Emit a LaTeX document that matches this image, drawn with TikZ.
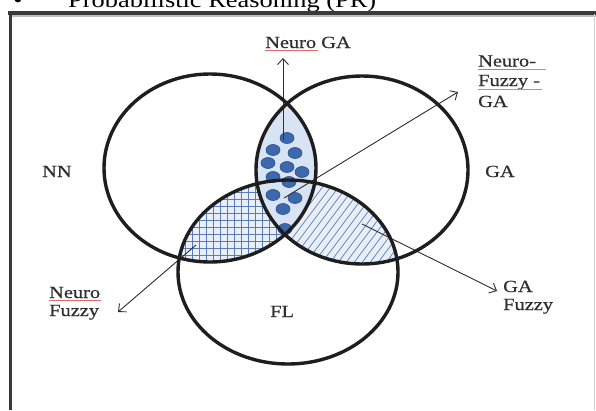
\documentclass[tikz,border=0pt]{standalone}
\usepackage{fontspec}
\setmainfont{Liberation Serif}
\newfontfamily\lblfont[FakeStretch=1.2,FakeBold=0.5]{Liberation Serif}
\newfontfamily\headfont[FakeStretch=1.2]{Liberation Serif}
\usetikzlibrary{arrows.meta}
\definecolor{ink}{HTML}{1E1E1E}
\definecolor{txt}{HTML}{2E2E2E}
\definecolor{dotblue}{HTML}{3D68AE}
\definecolor{dotedge}{HTML}{2A4F8E}
\definecolor{lensfill}{HTML}{D8E3F3}
\definecolor{hatchbg}{HTML}{E8EFF9}
\definecolor{hatchln}{HTML}{5A7BB8}
\definecolor{framec}{HTML}{3A3A3A}
\definecolor{spellred}{HTML}{E06A6A}
\definecolor{spellgreen}{HTML}{6DBB6D}
\begin{document}
\begin{tikzpicture}[x=1pt,y=-1pt,
  ring/.style={draw=ink, line width=3.4pt},
  lbl/.style={font=\lblfont\fontsize{17}{20}\selectfont, text=txt, inner sep=0pt, anchor=base west},
  arr/.style={draw=txt, line width=0.9pt, -{Straight Barb[length=6pt,width=11pt,line width=0.9pt]}},
  hatch/.style={draw=hatchln, line width=0.7pt},
  dot/.style={fill=dotblue, draw=dotedge, line width=0.6pt},
  spell/.style={line width=0.7pt}]

\useasboundingbox (0,0) rectangle (596,410);
\clip (0,0) rectangle (596,410);
\fill[white] (0,0) rectangle (596,410);

% heading line, cut by the top of the page
\node[font=\headfont\fontsize{22}{26}\selectfont, inner sep=0pt, anchor=base] (bullet) at (18,7) {•};
\node[font=\headfont\fontsize{22}{26}\selectfont, inner sep=0pt, anchor=base west] (title) at (68,7) {Probabilistic Reasoning (PR)};

% frame
\draw[line width=2pt, black!25] (9,15.5) -- (596,15.5);
\draw[line width=3.2pt, framec] (8,13) -- (596,13);
\draw[line width=3.4pt, framec] (10.5,11.5) -- (10.5,410);
\draw[line width=0.8pt, black!18] (594,14) -- (594,410);

% set centres
\coordinate (cNN) at (210,168);
\coordinate (cGA) at (362,170);
\coordinate (cFL) at (288,272);

% NN and FL overlap: cross hatching
\begin{scope}
  \clip (cNN) ellipse [x radius=106pt, y radius=94pt];
  \clip (cFL) ellipse [x radius=110pt, y radius=92pt];
  \fill[hatchbg] (150,150) rectangle (320,300);
  \foreach \x in {150,157,...,320} \draw[hatch] (\x,150) -- (\x,300);
  \foreach \y in {150,157,...,300} \draw[hatch] (150,\y) -- (320,\y);
\end{scope}

% GA and FL overlap: diagonal hatching
\begin{scope}
  \clip (cGA) ellipse [x radius=106pt, y radius=94pt];
  \clip (cFL) ellipse [x radius=110pt, y radius=92pt];
  \fill[hatchbg] (250,150) rectangle (420,300);
  \foreach \x in {150,158,...,420} \draw[hatch] (\x,300) -- (\x+110,153);
\end{scope}

% NN and GA overlap: light fill with dots
\begin{scope}
  \clip (cNN) ellipse [x radius=106pt, y radius=94pt];
  \fill[lensfill] (cGA) ellipse [x radius=106pt, y radius=94pt];
\end{scope}
\foreach \p in {(287,138),(273,150),(295,153),(268,163),(287,167),(302,172),
                (273,177),(289,182),(273,195),(295,198),(283,209),(285,229)}
  \draw[dot] \p ellipse [x radius=7pt, y radius=5.5pt];

% labels (multi-line labels sit on the baseline of their last line)
\node[lbl] (nn) at (42,177) {NN};
\node[lbl] (ga) at (485,177) {GA};
\node[lbl] (fl) at (270,317) {FL};
\node[lbl] (ngaT) at (265,48) {Neuro GA};
\node[lbl, align=left] (nfgT) at (478,107) {Neuro-\\[-0.5pt]Fuzzy -\\[1pt]GA};
\node[lbl, align=left] (nfT) at (49,316) {Neuro\\[-2pt]Fuzzy};
\node[lbl, align=left] (gfT) at (503,310) {GA\\[-2pt]Fuzzy};

% spelling marks under the labels
\draw[spell, spellred] (265,50.5) -- (318,50.5);
\draw[spell, spellred] (478,69) -- (521,69);
\draw[spell, spellgreen] (521,69) -- (546,69);
\draw[spell, spellgreen] (478,89) -- (542,89);
\draw[spell, spellred] (49,300.5) -- (101,300.5);

% arrows
\coordinate (ngaS) at (283,140);
\coordinate (ngaE) at (283,58);
\coordinate (nfgS) at (284,198);
\coordinate (nfgE) at (458,92);
\coordinate (nfS) at (196,245);
\coordinate (nfE) at (118,312);
\coordinate (gfS) at (362,224);
\coordinate (gfE) at (497,291);
\draw[arr] (ngaS) -- (ngaE);
\draw[arr] (nfgS) -- (nfgE);
\draw[arr] (nfS) -- (nfE);
\draw[arr] (gfS) -- (gfE);

% the three sets
\draw[ring] (cNN) ellipse [x radius=106pt, y radius=94pt];
\draw[ring] (cGA) ellipse [x radius=106pt, y radius=94pt];
\draw[ring] (cFL) ellipse [x radius=110pt, y radius=92pt];
\end{tikzpicture}
\end{document}
